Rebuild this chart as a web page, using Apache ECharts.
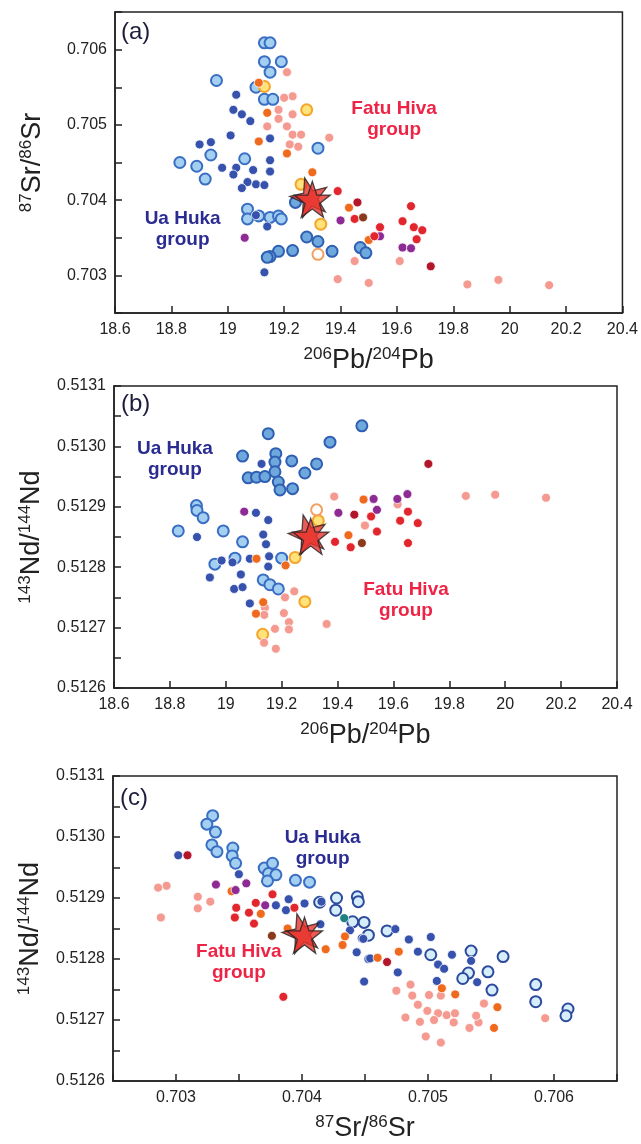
<!DOCTYPE html>
<html><head><meta charset="utf-8">
<script src="https://cdn.jsdelivr.net/npm/echarts@6/dist/echarts.min.js"></script>
<style>html,body{margin:0;padding:0;background:#fff}#c{width:641px;height:1144px}</style>
</head><body><div id="c"></div>
<script>
// ---------- tick labels ----------
const xTicksPb = [18.6,18.8,19,19.2,19.4,19.6,19.8,20,20.2,20.4];
const yTicksSr = [0.703,0.704,0.705,0.706];
const yTicksNd = [0.5126,0.5127,0.5128,0.5129,0.5130,0.5131];
const xTicksSr = [0.703,0.704,0.705,0.706];

// ---------- Panel (a): 206Pb/204Pb vs 87Sr/86Sr ----------
const a_uhLight = [[19.13,0.70609],[19.15,0.70609],[19.13,0.70584],[19.19,0.70584],[19.15,0.7057],[18.96,0.70559],[19.10,0.7055],[19.13,0.70534],[19.16,0.70534],[19.32,0.70469],[18.83,0.7045],[18.89,0.70445],[18.94,0.7046],[18.92,0.70428],[19.06,0.70455],[19.07,0.70388],[19.11,0.70379],[19.15,0.70377],[19.18,0.70379],[19.19,0.70375],[19.07,0.70375]];
const a_uhMed = [[19.24,0.70397],[19.28,0.70351],[19.32,0.70345],[19.23,0.70333],[19.18,0.70332],[19.15,0.70325],[19.14,0.70324],[19.37,0.70332],[19.47,0.70337],[19.49,0.7033]];
const a_dkBlue = [[19.03,0.7054],[19.02,0.7052],[19.05,0.70514],[19.08,0.70505],[19.01,0.70486],[18.90,0.70474],[18.94,0.70477],[19.15,0.70482],[19.15,0.70453],[19.15,0.70438],[18.98,0.70443],[19.03,0.70443],[19.09,0.7044],[19.02,0.70434],[19.10,0.70421],[19.13,0.7042],[19.07,0.70424],[19.05,0.70416],[19.10,0.7038],[19.14,0.70365],[19.13,0.70304]];
const a_salmon = [[19.21,0.7057],[19.23,0.70538],[19.20,0.70536],[19.18,0.7052],[19.23,0.70514],[19.14,0.70498],[19.18,0.70508],[19.21,0.70498],[19.23,0.70487],[19.26,0.70487],[19.22,0.70474],[19.25,0.70471],[19.36,0.70483],[19.45,0.70319],[19.61,0.70319],[19.39,0.70295],[19.50,0.7029],[19.85,0.70288],[19.96,0.70294],[20.14,0.70287]];
const a_orange = [[19.11,0.70556],[19.14,0.70516],[19.11,0.70478],[19.21,0.70462],[19.30,0.70437],[19.43,0.7039],[19.50,0.70347]];
const a_purple = [[19.06,0.7035],[19.40,0.70373],[19.62,0.70337],[19.65,0.70336],[19.54,0.70352]];
const a_red = [[19.39,0.70412],[19.45,0.70375],[19.54,0.70364],[19.52,0.70352],[19.65,0.70392],[19.62,0.70372],[19.66,0.70364],[19.69,0.7036],[19.67,0.70348]];
const a_darkRed = [[19.46,0.70397],[19.72,0.70312]];
const a_brown = [[19.48,0.70377]];
const a_teal = [];
const a_yellow = [[19.13,0.70551],[19.28,0.7052],[19.26,0.70421],[19.33,0.70368]];
const a_open = [[19.32,0.70328]];
const a_star = [[19.30,0.70401]];
const a_labels = [[18.84,0.70361,'Ua Huka\ngroup'],[19.59,0.70507,'Fatu Hiva\ngroup']];

// ---------- Panel (b): 206Pb/204Pb vs 143Nd/144Nd ----------
const b_uhLight = [[18.895,0.512902],[18.897,0.512894],[18.919,0.512882],[18.830,0.512860],[18.991,0.512860],[19.060,0.512842],[18.961,0.512805],[19.033,0.512815],[19.134,0.512779],[19.158,0.512771],[19.188,0.512764],[19.200,0.512815]];
const b_uhMed = [[19.487,0.513034],[19.152,0.513021],[19.373,0.513007],[19.060,0.512984],[19.179,0.512988],[19.176,0.512974],[19.236,0.512976],[19.325,0.512971],[19.283,0.512956],[19.080,0.512948],[19.110,0.512949],[19.140,0.512950],[19.176,0.512958],[19.188,0.512941],[19.194,0.512928],[19.239,0.512930]];
const b_dkBlue = [[19.128,0.512971],[19.108,0.512890],[19.152,0.512878],[18.897,0.512850],[19.134,0.512854],[19.144,0.512838],[19.155,0.512818],[19.152,0.512801],[18.985,0.512811],[19.024,0.512808],[19.086,0.512814],[19.054,0.512788],[18.943,0.512783],[19.030,0.512764],[19.060,0.512767],[19.086,0.512740]];
const b_salmon = [[19.388,0.512917],[19.615,0.512904],[19.498,0.512869],[19.245,0.512760],[19.212,0.512750],[19.140,0.512733],[19.138,0.512721],[19.208,0.512724],[19.226,0.512709],[19.176,0.512698],[19.226,0.512697],[19.361,0.512706],[19.137,0.512675],[19.179,0.512665],[19.859,0.512918],[19.964,0.512920],[20.146,0.512915]];
const b_orange = [[19.493,0.512912],[19.439,0.512853],[19.110,0.512814],[19.214,0.512803],[19.134,0.512742],[19.108,0.512723]];
const b_purple = [[19.066,0.512892],[19.403,0.512890],[19.529,0.512913],[19.541,0.512895],[19.614,0.512913],[19.650,0.512921]];
const b_red = [[19.391,0.512842],[19.447,0.512833],[19.520,0.512884],[19.541,0.512859],[19.624,0.512877],[19.652,0.512892],[19.652,0.512840],[19.687,0.512873]];
const b_darkRed = [[19.460,0.512887],[19.725,0.512971]];
const b_brown = [[19.487,0.512840]];
const b_teal = [];
const b_yellow = [[19.331,0.512877],[19.248,0.512816],[19.283,0.512743],[19.132,0.512689]];
const b_open = [[19.325,0.512895]];
const b_star = [[19.304,0.512851]];
const b_labels = [[18.818,0.512978,'Ua Huka\ngroup'],[19.645,0.512746,'Fatu Hiva\ngroup']];

// ---------- Panel (c): 87Sr/86Sr vs 143Nd/144Nd ----------
const c_uhLight = [[0.703291,0.513035],[0.703245,0.513021],[0.703313,0.513008],[0.703285,0.512987],[0.703325,0.512976],[0.703451,0.512982],[0.703446,0.512969],[0.703473,0.512957],[0.703700,0.512949],[0.703766,0.512957],[0.703734,0.512940],[0.703793,0.512938],[0.703726,0.512928],[0.703948,0.512929],[0.704060,0.512926]];
const c_uhPale = [[0.704274,0.512900],[0.704439,0.512902],[0.704447,0.512894],[0.704268,0.512880],[0.704402,0.512861],[0.704493,0.512860],[0.704140,0.512893],[0.704527,0.512839],[0.704675,0.512846],[0.705022,0.512807],[0.705342,0.512813],[0.705596,0.512804],[0.705321,0.512777],[0.705276,0.512768],[0.705476,0.512779],[0.705508,0.512749],[0.705855,0.512758],[0.705855,0.512730],[0.706111,0.512718],[0.706095,0.512707]];
const c_dkBlue = [[0.703018,0.512970],[0.703499,0.512939],[0.703793,0.512888],[0.703894,0.512898],[0.704020,0.512891],[0.704154,0.512894],[0.703873,0.512880],[0.704146,0.512857],[0.704381,0.512847],[0.704474,0.512834],[0.704434,0.512811],[0.704527,0.512800],[0.704493,0.512763],[0.704741,0.512849],[0.704848,0.512832],[0.705022,0.512836],[0.704920,0.512812],[0.705190,0.512807],[0.705080,0.512791],[0.705128,0.512784],[0.705342,0.512797],[0.704760,0.512778],[0.705070,0.512764],[0.705390,0.512762],[0.704487,0.512833],[0.704541,0.512801]];
const c_salmon = [[0.702925,0.512920],[0.702858,0.512917],[0.703173,0.512902],[0.703272,0.512894],[0.703173,0.512883],[0.702880,0.512868],[0.704749,0.512748],[0.704861,0.512758],[0.704875,0.512740],[0.704920,0.512725],[0.705008,0.512741],[0.705102,0.512740],[0.704995,0.512715],[0.705080,0.512711],[0.705148,0.512708],[0.705214,0.512711],[0.704821,0.512704],[0.704936,0.512697],[0.705048,0.512700],[0.705204,0.512696],[0.705329,0.512687],[0.705401,0.512696],[0.705382,0.512707],[0.705444,0.512727],[0.704982,0.512673],[0.705102,0.512663],[0.705930,0.512703]];
const c_orange = [[0.703441,0.512911],[0.703673,0.512874],[0.703886,0.512850],[0.704341,0.512837],[0.704322,0.512823],[0.704188,0.512816],[0.704600,0.512802],[0.704768,0.512812],[0.705110,0.512752],[0.705216,0.512742],[0.705551,0.512721],[0.705524,0.512687]];
const c_purple = [[0.703317,0.512922],[0.703473,0.512913],[0.703558,0.512924],[0.703708,0.512888]];
const c_red = [[0.703766,0.512906],[0.703633,0.512892],[0.703478,0.512884],[0.703579,0.512876],[0.703467,0.512868],[0.703619,0.512858],[0.703940,0.512884],[0.703852,0.512738]];
const c_darkRed = [[0.703091,0.512970],[0.704675,0.512795]];
const c_brown = [[0.703761,0.512838]];
const c_teal = [[0.704335,0.512867]];
const c_star = [[0.704020,0.512839]];
const c_labels = [[0.704164,0.512982,'Ua Huka\ngroup'],[0.703499,0.512795,'Fatu Hiva\ngroup']];

// ---------- styles ----------
const FONT = 'Liberation Sans, Arial, Helvetica, sans-serif';
const STAR = 'path://M50,2 L61.8,36.2 L97.6,36.2 L68.9,57.8 L79.4,92.1 L50,71.2 L20.6,92.1 L31.1,57.8 L2.4,36.2 L38.2,36.2 Z';
const bigStyle = {
  uhLight: {fill:'#a3cff0', border:'#3a6ec4'},
  uhMed:   {fill:'#6fa8dd', border:'#2f5fb2'},
  uhPale:  {fill:'#d6eefa', border:'#2c4a9e'},
  yellow:  {fill:'#ffe27a', border:'#f4a52a'},
  open:    {fill:'#ffffff', border:'#f4a060'}
};
const dotColor = {dkBlue:'#3652ad', salmon:'#f49a90', orange:'#f06a1e', purple:'#8d2a93', red:'#e2262e', darkRed:'#b3162b', brown:'#8a3a1c', teal:'#1e8283'};

function big(gi, data, key){
  const s = bigStyle[key];
  return {type:'scatter', xAxisIndex:gi, yAxisIndex:gi, data:data, symbol:'circle', symbolSize:11,
    itemStyle:{color:s.fill, borderColor:s.border, borderWidth:2, opacity:1}, silent:true, z:2};
}
function dot(gi, data, key){
  return {type:'scatter', xAxisIndex:gi, yAxisIndex:gi, data:data, symbol:'circle', symbolSize:9,
    itemStyle:{color:dotColor[key], borderColor:'#ffffff', borderWidth:0.8, opacity:1}, silent:true, z:3};
}
function star(gi, data){
  return [
    {type:'scatter', xAxisIndex:gi, yAxisIndex:gi, data:data, symbol:STAR, symbolSize:38, symbolRotate:14, symbolOffset:[-3,-3],
      itemStyle:{color:'#e8322c', borderColor:'#222', borderWidth:1.3}, silent:true, z:5},
    {type:'scatter', xAxisIndex:gi, yAxisIndex:gi, data:data, symbol:STAR, symbolSize:36,
      itemStyle:{color:'#e8322c', borderColor:'#222', borderWidth:1.3}, silent:true, z:6}
  ];
}
function labels(gi, data){
  return data.map(d => ({type:'scatter', xAxisIndex:gi, yAxisIndex:gi, data:[[d[0],d[1]]], symbolSize:1,
    itemStyle:{color:'rgba(0,0,0,0)'}, silent:true, z:7,
    label:{show:true, position:'inside', formatter:d[2], fontFamily:FONT, fontWeight:'bold', fontSize:19, lineHeight:21,
      textBorderWidth:0, opacity:1,
      color: d[2].indexOf('Ua')===0 ? '#2a2c92' : '#ee2446'}}));
}

function fmtPb(v){ return xTicksPb.some(t=>Math.abs(t-v)<1e-6) ? String(+v.toFixed(1)) : ''; }
function fmtSr(v){ return xTicksSr.some(t=>Math.abs(t-v)<1e-7) ? v.toFixed(3) : ''; }
function fmtNd(v){ return yTicksNd.some(t=>Math.abs(t-v)<1e-8) ? v.toFixed(4) : ''; }

const lineS = {color:'#222', width:1.5};
function axis(gi, min, max, interval, fmt, name, isY){
  return {type:'value', gridIndex:gi, min:min, max:max, interval:interval, scale:true,
    axisLine:{show:true, onZero:false, lineStyle:lineS},
    axisTick:{show:true, inside:true, length:7, lineStyle:lineS},
    splitLine:{show:false},
    axisLabel:{color:'#222', fontSize:16, fontFamily:FONT, margin:isY?8:9, formatter:fmt, showMinLabel:true, showMaxLabel:true},
    name:name, nameLocation:'middle', nameGap:isY?68:33, nameRotate:isY?90:0,
    nameTextStyle:{color:'#222', fontFamily:FONT, rich:{
      s:{fontSize:17, fontFamily:FONT, color:'#222', verticalAlign:'top', lineHeight:17},
      m:{fontSize:27, fontFamily:FONT, color:'#222', lineHeight:29}}}
  };
}
const nameSr = '{s|87}{m|Sr/}{s|86}{m|Sr}';
const namePb = '{s|206}{m|Pb/}{s|204}{m|Pb}';
const nameNd = '{s|143}{m|Nd/}{s|144}{m|Nd}';

const series = [].concat(
  big(0,a_uhLight,'uhLight'), big(0,a_uhMed,'uhMed'),
  dot(0,a_dkBlue,'dkBlue'), dot(0,a_salmon,'salmon'), dot(0,a_orange,'orange'), dot(0,a_purple,'purple'),
  dot(0,a_red,'red'), dot(0,a_darkRed,'darkRed'), dot(0,a_brown,'brown'), dot(0,a_teal,'teal'),
  big(0,a_yellow,'yellow'), big(0,a_open,'open'), star(0,a_star), labels(0,a_labels),

  big(1,b_uhMed,'uhMed'), big(1,b_uhLight,'uhLight'),
  dot(1,b_dkBlue,'dkBlue'), dot(1,b_salmon,'salmon'), dot(1,b_orange,'orange'), dot(1,b_purple,'purple'),
  dot(1,b_red,'red'), dot(1,b_darkRed,'darkRed'), dot(1,b_brown,'brown'), dot(1,b_teal,'teal'),
  big(1,b_yellow,'yellow'), big(1,b_open,'open'), star(1,b_star), labels(1,b_labels),

  big(2,c_uhLight,'uhLight'), big(2,c_uhPale,'uhPale'),
  dot(2,c_dkBlue,'dkBlue'), dot(2,c_salmon,'salmon'), dot(2,c_orange,'orange'), dot(2,c_purple,'purple'),
  dot(2,c_red,'red'), dot(2,c_darkRed,'darkRed'), dot(2,c_brown,'brown'), dot(2,c_teal,'teal'),
  star(2,c_star), labels(2,c_labels)
);

const chart = echarts.init(document.getElementById('c'), null, {renderer:'canvas'});
chart.setOption({
  animation:false,
  backgroundColor:'#fff',
  grid:[
    {left:115, top:12, width:509, height:301, show:true, borderColor:'#222', borderWidth:1.5, containLabel:false},
    {left:114, top:386, width:503, height:302, show:true, borderColor:'#222', borderWidth:1.5, containLabel:false},
    {left:113, top:776, width:504, height:305, show:true, borderColor:'#222', borderWidth:1.5, containLabel:false}
  ],
  xAxis:[
    axis(0, 18.6, 20.4, 0.2, fmtPb, namePb, false),
    axis(1, 18.6, 20.4, 0.2, fmtPb, namePb, false),
    axis(2, 0.7025, 0.7065, 0.0005, fmtSr, nameSr, false)
  ],
  yAxis:[
    axis(0, 0.7025, 0.7065, 0.0005, fmtSr, nameSr, true),
    axis(1, 0.5126, 0.5131, 0.00005, fmtNd, nameNd, true),
    axis(2, 0.5126, 0.5131, 0.00005, fmtNd, nameNd, true)
  ],
  graphic:[
    {type:'text', left:121, top:20, style:{text:'(a)', fontSize:24, fontFamily:FONT, fill:'#1c1c3c'}},
    {type:'text', left:121, top:392, style:{text:'(b)', fontSize:24, fontFamily:FONT, fill:'#1c1c3c'}},
    {type:'text', left:120, top:786, style:{text:'(c)', fontSize:24, fontFamily:FONT, fill:'#1c1c3c'}}
  ],
  series:series
});
</script></body></html>
